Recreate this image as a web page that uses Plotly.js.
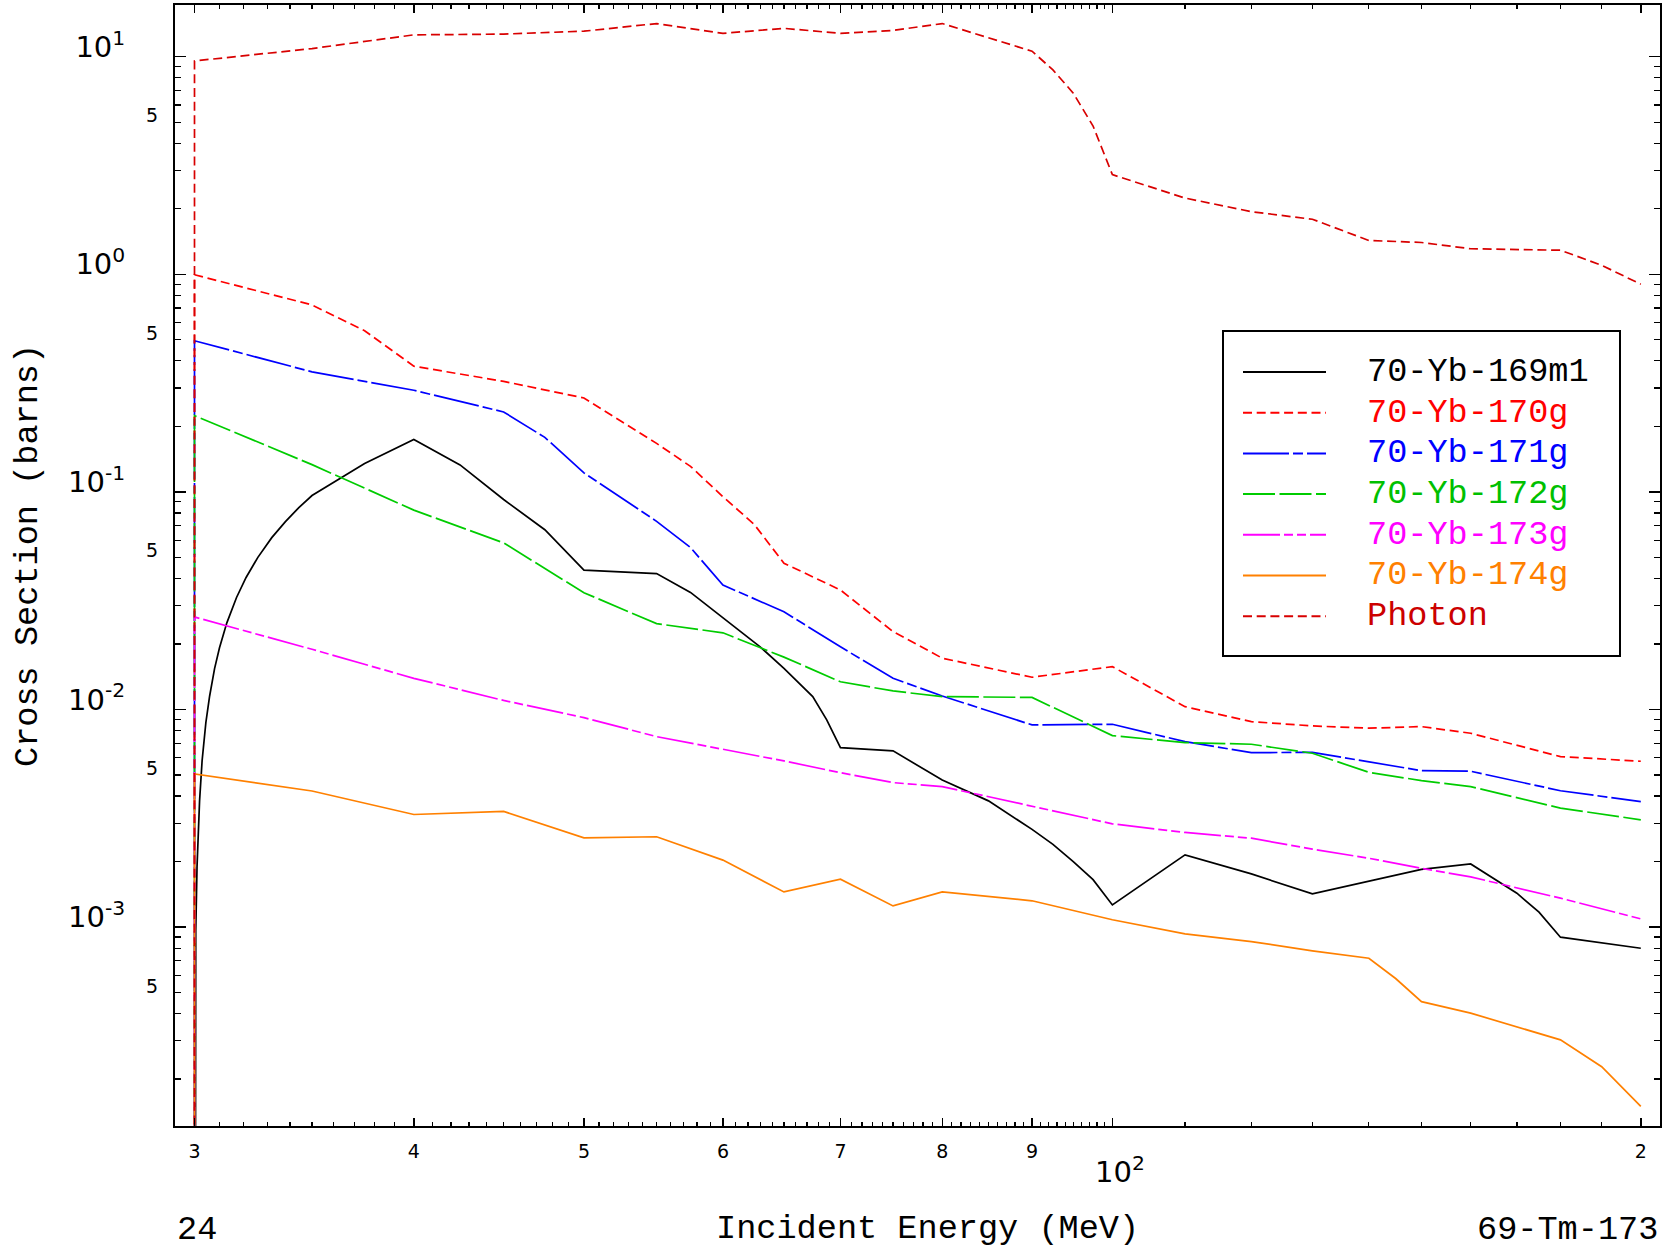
<!DOCTYPE html>
<html>
<head>
<meta charset="utf-8">
<script src="https://cdn.plot.ly/plotly-3.0.1.min.js"></script>
<style>html,body{margin:0;padding:0;background:#fff;}#chart{width:1665px;height:1257px;}</style>
</head>
<body>
<div id="chart"></div>
<script>
// ---------------- data ----------------
const TINY = 1e-8; // value below the visible range (threshold, drawn off the bottom)

const e169m1 = [30.0,30.05,30.1,30.2,30.3,30.45,30.6,30.8,31.0,31.3,31.7,32.1,32.6,33.2,33.8,34.4,35,37.5,40,42.5,45,47.5,50,55,57.5,60,63,65,67.5,68.75,70,75,80,85,90,92.5,95,97.5,100,110,120,130,140,150,160,170,175,180,200];
const v169m1 = [TINY,0.00096,0.0019,0.0038,0.0058,0.0087,0.0115,0.0154,0.0192,0.025,0.0327,0.0404,0.050,0.0616,0.073,0.0847,0.0962,0.135,0.174,0.133,0.0922,0.067,0.0437,0.0421,0.0345,0.0265,0.0194,0.01546,0.01145,0.00895,0.00668,0.00645,0.00474,0.0038,0.00281,0.0024,0.0020,0.00165,0.001263,0.002145,0.001754,0.00142,0.00162,0.00184,0.00195,0.00143,0.00117,0.000898,0.000799];

const e170g = [30,30,35,37.5,40,45,50,55,57.5,60,62.5,65,70,75,80,90,100,110,120,130,140,150,160,180,200];
const v170g = [TINY,0.995,0.723,0.55,0.378,0.322,0.270,0.167,0.131,0.095,0.071,0.047,0.0354,0.0228,0.0172,0.01406,0.01573,0.0103,0.00879,0.0084,0.0082,0.00834,0.00777,0.00607,0.00578];

const e171g = [30,30,35,40,45,47.5,50,55,57.5,60,65,70,75,80,90,100,110,120,130,140,150,160,180,200];
const v171g = [TINY,0.495,0.356,0.293,0.233,0.178,0.1223,0.0732,0.0555,0.0373,0.0281,0.0194,0.0139,0.01153,0.00849,0.00855,0.00711,0.00633,0.00635,0.00575,0.00523,0.0052,0.00423,0.00377];

const e172g = [30,30,35,40,45,50,55,60,65,70,75,80,90,100,110,120,130,140,150,160,180,200];
const v172g = [TINY,0.224,0.1334,0.0824,0.0583,0.0344,0.0248,0.0225,0.0174,0.0134,0.01216,0.01145,0.01136,0.00758,0.00704,0.00692,0.00629,0.00514,0.00471,0.00442,0.00352,0.00311];

const e173g = [30,30,35,40,45,50,55,60,65,70,75,80,90,100,110,120,130,140,150,160,180,200];
const v173g = [TINY,0.0266,0.0189,0.0139,0.011,0.00917,0.0075,0.00656,0.0058,0.00512,0.00461,0.00442,0.0036,0.00298,0.00272,0.00256,0.00228,0.00207,0.00186,0.0017,0.001357,0.00109];

const e174g = [30,30,35,40,45,50,55,60,65,70,75,80,90,100,110,120,130,140,145,150,160,180,190,200];
const v174g = [TINY,0.00505,0.00422,0.00329,0.0034,0.00257,0.0026,0.00203,0.00145,0.00166,0.00125,0.00145,0.00132,0.00108,0.00093,0.000857,0.000777,0.000719,0.00058,0.000454,0.000402,0.000303,0.000228,0.00015];

const ePhoton = [30,30,35,40,45,50,55,60,65,70,75,80,90,92.5,95,97.5,100,110,120,130,140,150,160,180,190,200];
const vPhoton = [TINY,9.56,10.9,12.6,12.7,13.1,14.2,12.8,13.5,12.8,13.2,14.2,10.6,8.7,6.8,4.8,2.87,2.24,1.94,1.79,1.43,1.40,1.31,1.29,1.10,0.90];

const seriesNames = ['70-Yb-169m1','70-Yb-170g','70-Yb-171g','70-Yb-172g','70-Yb-173g','70-Yb-174g','Photon'];

// tick labels
const xTickVals = [30,40,50,60,70,80,90,100,200];
const xTickText = ['3','4','5','6','7','8','9',' ','2'];
const xMinorVals = [];
for (let e = 31; e < 100; e++) if (e % 10 !== 0) xMinorVals.push(e);
for (let e = 110; e < 200; e += 10) xMinorVals.push(e);

const yTickVals = [1e-3,1e-2,1e-1,1,10];
const yTickText = ['10<sup>-3</sup>','10<sup>-2</sup>','10<sup>-1</sup>','10<sup>0</sup>','10<sup>1</sup>'];
const yFiveVals = [5e-4,5e-3,5e-2,0.5,5];
const yMinorVals = [];
for (let n = -4; n <= 1; n++) for (let k = 2; k <= 9; k++) {
  const v = k * Math.pow(10, n);
  if (v > 1.22e-4 && v < 17) yMinorVals.push(v);
}

// ---------------- styles ----------------
const styles = [
  {color:'#000000', dash:'solid'},
  {color:'#ff0000', dash:'9px,4.7px'},
  {color:'#0000ff', dash:'46px,4px,10px,4px'},
  {color:'#00cc00', dash:'32px,4.5px'},
  {color:'#ff00ff', dash:'37px,4px,9px,4px,9px,4px'},
  {color:'#ff8000', dash:'solid'},
  {color:'#d80000', dash:'9px,4.7px'}
];
const textColors = ['#000000','#ff0000','#0000ff','#00c000','#ff00ff','#ff8000','#cc0000'];

const xs = [e169m1,e170g,e171g,e172g,e173g,e174g,ePhoton];
const ys = [v169m1,v170g,v171g,v172g,v173g,v174g,vPhoton];

const traces = xs.map((x, i) => ({
  type:'scatter', mode:'lines', x:x, y:ys[i], name:seriesNames[i],
  line:{color:styles[i].color, dash:styles[i].dash, width:1.7},
  showlegend:false, hoverinfo:'skip'
}));

// ---------------- layout ----------------
const W = 1665, H = 1257;
const mL = 175, mR = 5, mT = 5, mB = 131;
const pw = W - mL - mR, ph = H - mT - mB;
const px = p => (p - mL) / pw;          // pixel -> paper x
const py = p => (H - mB - p) / ph;      // pixel -> paper y

const monoFont = 'Liberation Mono, Courier New, monospace';
const numFont = 'DejaVu Sans, Liberation Sans, sans-serif';
const monoSize = 33.6;

const shapes = [];
const annotations = [];

// custom legend
shapes.push({type:'rect', xref:'paper', yref:'paper', x0:px(1223), x1:px(1620), y0:py(656), y1:py(331),
  line:{color:'black', width:2}, fillcolor:'white', layer:'above'});
const rowY0 = 372, rowStep = 40.7;
seriesNames.forEach((nm, i) => {
  const yy = py(rowY0 + i * rowStep);
  shapes.push({type:'line', xref:'paper', yref:'paper', x0:px(1243), x1:px(1326), y0:yy, y1:yy,
    line:{color:styles[i].color, dash:styles[i].dash, width:2}, layer:'above'});
  annotations.push({xref:'paper', yref:'paper', x:px(1365), y:yy, xanchor:'left', yanchor:'middle',
    text:nm, showarrow:false, font:{family:monoFont, size:monoSize, color:textColors[i]}});
});

// "5" minor labels on the y axis
yFiveVals.forEach(v => annotations.push({xref:'paper', yref:'y', x:0, y:Math.log10(v), xanchor:'right', yanchor:'middle',
  xshift:-15, yshift:7, text:'5', showarrow:false, font:{family:numFont, size:19, color:'black'}}));

// 10^2 label on x axis (placed lower, as in the reference)
annotations.push({xref:'x', yref:'paper', x:Math.log10(100), y:0, xanchor:'left', yanchor:'middle',
  xshift:-19, yshift:-44, text:'10<sup>2</sup>', showarrow:false, font:{family:numFont, size:29, color:'black'}});

// footer texts
annotations.push({xref:'paper', yref:'paper', x:0, y:0, xanchor:'left', yanchor:'middle', yshift:-104,
  text:'24', showarrow:false, font:{family:monoFont, size:monoSize, color:'black'}});
annotations.push({xref:'paper', yref:'paper', x:1, y:0, xanchor:'right', yanchor:'middle', yshift:-104,
  text:'69-Tm-173', showarrow:false, font:{family:monoFont, size:monoSize, color:'black'}});

const axisCommon = {
  type:'log', showgrid:false, zeroline:false, showline:true, linecolor:'black', linewidth:2,
  mirror:'allticks', ticks:'inside', tickcolor:'black', tickmode:'array'
};

const layout = {
  width:W, height:H, margin:{l:mL, r:mR, t:mT, b:mB, pad:0},
  paper_bgcolor:'white', plot_bgcolor:'white', showlegend:false,
  xaxis:Object.assign({}, axisCommon, {
    range:[1.46601, 2.31197], tickvals:xTickVals, ticktext:xTickText, ticklen:8, tickwidth:1.5,
    tickfont:{family:numFont, size:19, color:'black'}, ticklabelstandoff:7,
    minor:{tickmode:'array', tickvals:xMinorVals, ticks:'inside', ticklen:4, tickwidth:1.2, tickcolor:'black', showgrid:false},
    title:{text:'&nbsp;Incident Energy (MeV)', font:{family:monoFont, size:monoSize, color:'black'}, standoff:54}
  }),
  yaxis:Object.assign({}, axisCommon, {
    range:[-3.9145, 1.2376], tickvals:yTickVals, ticktext:yTickText, ticklen:11, tickwidth:1.5,
    tickfont:{family:numFont, size:29, color:'black'}, ticklabelstandoff:42, ticklabelshift:-10,
    minor:{tickmode:'array', tickvals:yMinorVals, ticks:'inside', ticklen:6, tickwidth:1.2, tickcolor:'black', showgrid:false},
    title:{text:'&nbsp;Cross Section (barns)', font:{family:monoFont, size:monoSize, color:'black'}, standoff:20}
  }),
  shapes:shapes, annotations:annotations
};

Plotly.newPlot('chart', traces, layout, {displayModeBar:false, staticPlot:true});
</script>
</body>
</html>
